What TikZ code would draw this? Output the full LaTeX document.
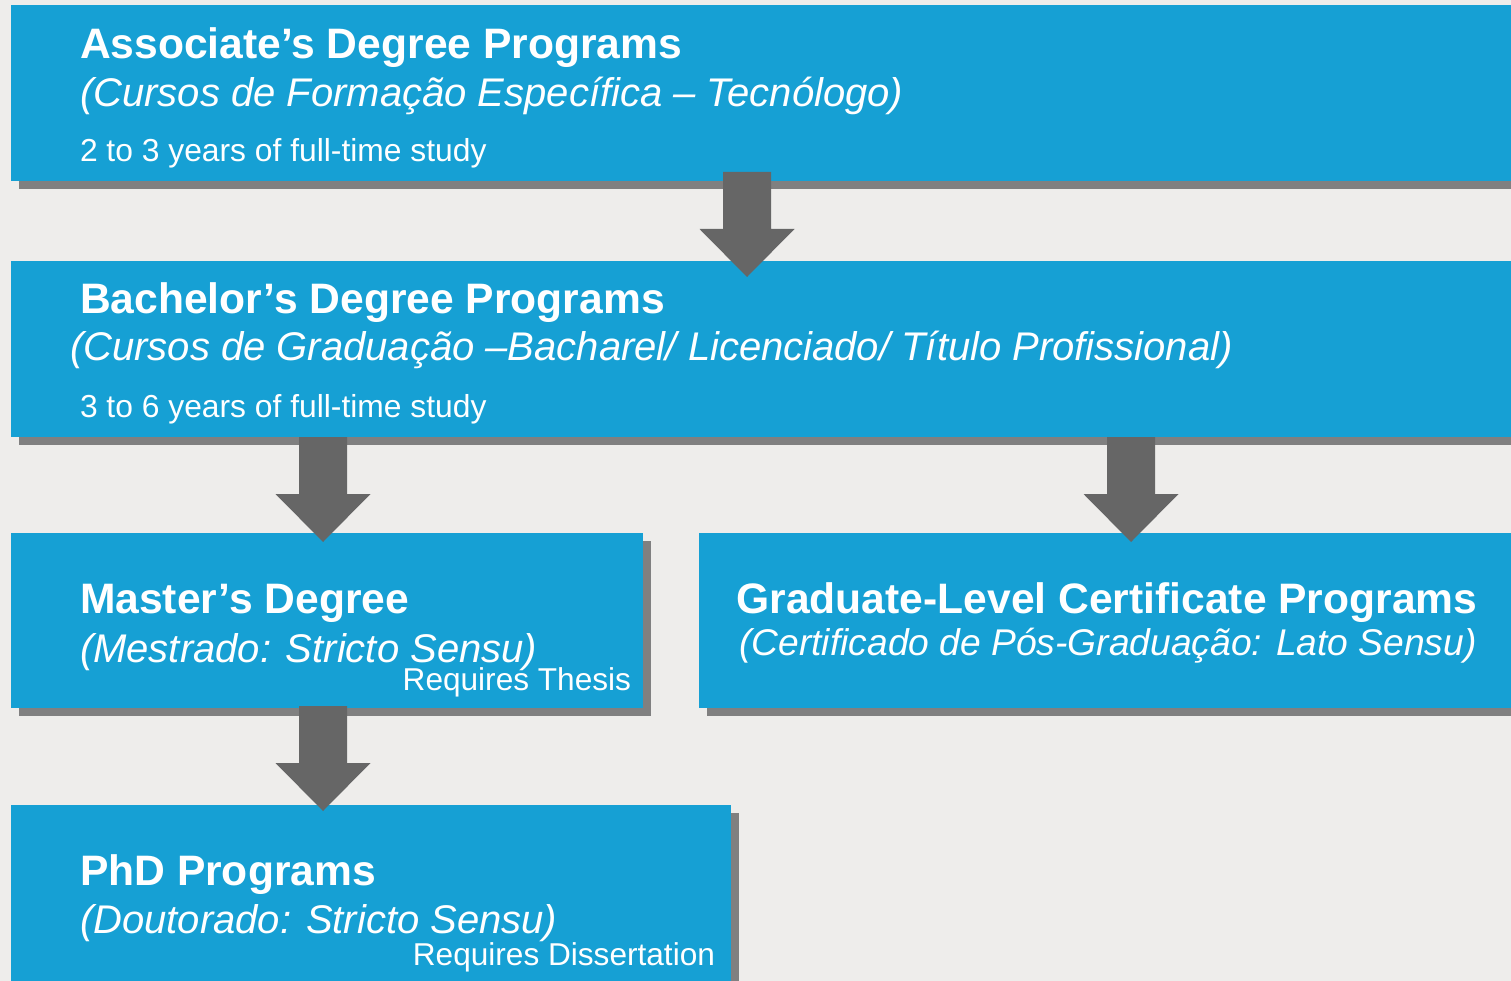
\documentclass[tikz,border=0pt]{standalone}
\usepackage{fontspec}
\setmainfont{Liberation Sans}
\usepackage{tikz}
\usetikzlibrary{calc,positioning,shadows}
\usepackage{xcolor}
\definecolor{progblue}{RGB}{22,160,212}
\definecolor{shadowgray}{RGB}{128,128,128}
\definecolor{arrowgray}{RGB}{102,102,102}
\definecolor{paper}{RGB}{238,237,235}

\begin{document}
\begin{tikzpicture}[x=1pt,y=1pt,
	  every node/.style={text=white,inner sep=0pt,outer sep=0pt},
	  program/.style={anchor=north west,fill=progblue,draw=none,
	    drop shadow={shadow xshift=8pt,shadow yshift=-8pt,fill=shadowgray,opacity=1}},
	  heading/.style={anchor=base west,font=\fontsize{42.6}{50}\selectfont\bfseries},
	  subtitle/.style={anchor=base west,font=\fontsize{40}{48}\selectfont\itshape},
	  years/.style={anchor=base west,font=\fontsize{31.8}{38}\selectfont},
	  requires/.style={anchor=base east,font=\fontsize{31.6}{38}\selectfont},
	  flow/.style={fill=arrowgray,draw=none}]

	  \useasboundingbox (0,0) rectangle (1511,-981);
	  \clip (0,0) rectangle (1511,-981);
	  \fill[paper] (0,0) rectangle (1511,-981);

	  % Program boxes
	  \node[program,minimum width=1510pt,minimum height=176pt] (assoc) at (11,-5) {};
	  \node[program,minimum width=1510pt,minimum height=176pt] (bach) at (11,-261) {};
	  \node[program,minimum width=632pt,minimum height=175pt] (mast) at (11,-533) {};
	  \node[program,minimum width=820pt,minimum height=175pt] (grad) at (699,-533) {};
	  \node[program,minimum width=720pt,minimum height=190pt] (phd) at (11,-805) {};

	  % Texts of the boxes
	  \node[heading] (assoc-title) at ($(assoc.north west)+(69,-54)$) {Associate’s Degree Programs};
	  \node[subtitle] (assoc-sub) at ($(assoc.north west)+(69,-102)$) {(Cursos de Formação Específica – Tecnólogo)};
	  \node[years] (assoc-years) at ($(assoc.north west)+(69,-157)$) {2 to 3 years of full-time study};

	  \node[heading] (bach-title) at ($(bach.north west)+(69,-52)$) {Bachelor’s Degree Programs};
	  \node[subtitle] (bach-sub) at ($(bach.north west)+(59,-99)$) {(Cursos de Graduação –Bacharel/ Licenciado/ Título Profissional)};
	  \node[years] (bach-years) at ($(bach.north west)+(69,-156)$) {3 to 6 years of full-time study};

	  \node[heading] (mast-title) at ($(mast.north west)+(69,-80)$) {Master’s Degree};
	  \node[subtitle] (mast-sub) at ($(mast.north west)+(69,-129)$) {(Mestrado: Stricto Sensu)};
	  \node[requires] (mast-req) at ($(mast.north east)+(-12,-157)$) {Requires Thesis};

	  \node[heading,anchor=base] (grad-title) at ($(grad.north west)+(408,-80)$) {Graduate-Level Certificate Programs};
	  \node[subtitle,anchor=base,font=\fontsize{37.2}{44}\selectfont\itshape] (grad-sub) at ($(grad.north west)+(409,-122)$) {(Certificado de Pós-Graduação: Lato Sensu)};

	  \node[heading] (phd-title) at ($(phd.north west)+(69,-80)$) {PhD Programs};
	  \node[subtitle] (phd-sub) at ($(phd.north west)+(69,-128)$) {(Doutorado: Stricto Sensu)};
	  \node[requires] (phd-req) at ($(phd.north east)+(-16,-160)$) {Requires Dissertation};

	  % Block arrows between the boxes
	  \foreach \src/\dst/\xx/\up/\dn in {assoc/bach/747/9/16,bach/mast/323/0/9,bach/grad/1131/0/9,mast/phd/323/2/6}
	    \fill[flow] let \p1=(\src.south), \p2=(\dst.north) in
	      (\xx-24,\y1+\up) -- (\xx+24,\y1+\up) -- (\xx+24,\y2-\dn+48) -- (\xx+47.5,\y2-\dn+48)
	      -- (\xx,\y2-\dn) -- (\xx-47.5,\y2-\dn+48) -- (\xx-24,\y2-\dn+48) -- cycle;

\end{tikzpicture}
\end{document}
